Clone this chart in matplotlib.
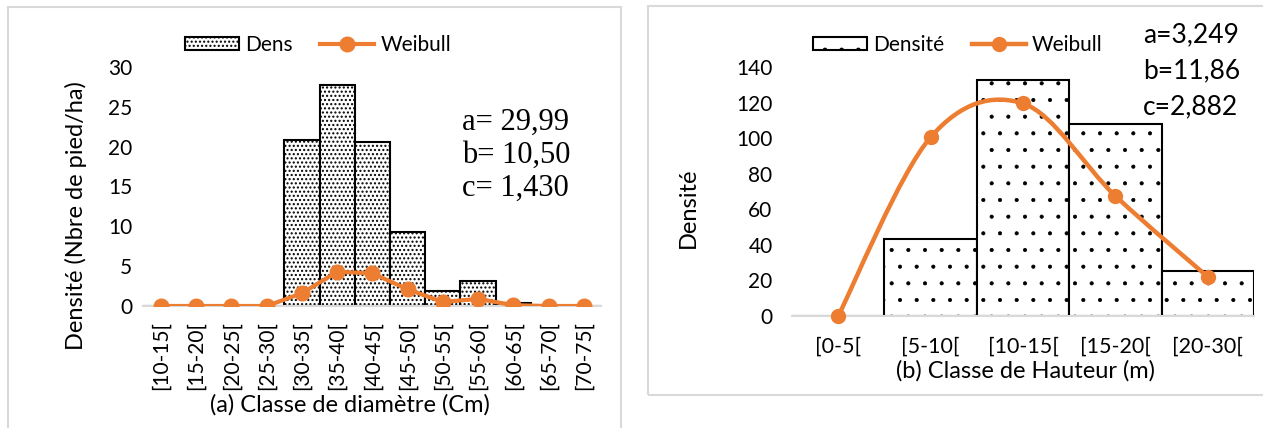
import numpy as np
import matplotlib.pyplot as plt
from matplotlib.patches import Rectangle, PathPatch
from matplotlib.path import Path
from matplotlib.lines import Line2D

# ---- données (a) : classes de diamètre ----
classes_d = ['[10-15[', '[15-20[', '[20-25[', '[25-30[', '[30-35[', '[35-40[', '[40-45[',
             '[45-50[', '[50-55[', '[55-60[', '[60-65[', '[65-70[', '[70-75[']
dens_d = [0, 0, 0, 0, 20.8, 27.7, 20.6, 9.3, 1.9, 3.2, 0.4, 0, 0]
weib_d = [0, 0, 0, 0, 1.6, 4.3, 4.1, 2.1, 0.5, 0.9, 0.1, 0, 0]
param_d = ['a= 29,99', 'b= 10,50', 'c= 1,430']

# ---- données (b) : classes de hauteur ----
classes_h = ['[0-5[', '[5-10[', '[10-15[', '[15-20[', '[20-30[']
dens_h = [0, 43.5, 132.5, 108, 25.5]
weib_h = [0, 100.5, 119.5, 67.5, 22]
param_h = ['a=3,249', 'b=11,86', 'c=2,882']

ORANGE = '#ED7D31'
W, H = 1263, 428
plt.rcParams['font.family'] = ['Lato', 'DejaVu Sans']
plt.rcParams['hatch.linewidth'] = 1.0

fig = plt.figure(figsize=(W / 100, H / 100), dpi=100)


def fx(px):
    return px / W


def fy(py):
    return 1 - py / H


def smooth_path(xs, ys):
    # courbe lissée façon Excel (Bézier de type Catmull-Rom)
    pts = np.column_stack([xs, ys]).astype(float)
    n = len(pts)
    verts = [pts[0]]
    codes = [Path.MOVETO]
    for i in range(n - 1):
        p0 = pts[i - 1] if i > 0 else pts[i]
        p1, p2 = pts[i], pts[i + 1]
        p3 = pts[i + 2] if i + 2 < n else pts[i + 1]
        verts += [p1 + (p2 - p0) / 6, p2 - (p3 - p1) / 6, p2]
        codes += [Path.CURVE4] * 3
    return Path(verts, codes)


def legende(handles, labels, cx, cy):
    fig.legend(handles, labels, loc='center', bbox_to_anchor=(fx(cx), fy(cy)),
               ncol=2, frameon=False, fontsize=15, handlelength=2.6, handleheight=0.6,
               handletextpad=0.3, columnspacing=1.3, numpoints=1)


def style_axe(ax, pad):
    ax.tick_params(length=0, labelsize=15, pad=pad)
    for s in ['top', 'right', 'left']:
        ax.spines[s].set_visible(False)
    ax.spines['bottom'].set_color('#d9d9d9')
    ax.spines['bottom'].set_linewidth(1.5)
    ax.patch.set_alpha(0)


# cadres des deux graphiques
fig.patches.append(Rectangle((fx(8), fy(440)), fx(613), fy(7) - fy(440), transform=fig.transFigure,
                             fill=False, edgecolor='#d9d9d9', lw=1.5))
fig.patches.append(Rectangle((fx(648), fy(395)), fx(630), fy(6) - fy(395), transform=fig.transFigure,
                             fill=False, edgecolor='#d9d9d9', lw=1.5))

# ================= (a) =================
ax1 = fig.add_axes([fx(143.4), fy(306), fx(458), fy(67) - fy(306)])
x1 = np.arange(len(classes_d))
ax1.bar(x1, dens_d, width=1.0, color='white', edgecolor='black', lw=1.5, hatch='....', zorder=2)
ax1.plot(x1, weib_d, color=ORANGE, lw=3, marker='o', ms=10.5, zorder=3)
ax1.set_xlim(-0.5, len(classes_d) - 0.5)
ax1.set_ylim(0, 30)
ax1.set_yticks(range(0, 31, 5))
ax1.set_xticks(x1)
ax1.set_xticklabels(classes_d, rotation=90)
style_axe(ax1, 11)
ax1.tick_params(axis='y', pad=8)

fig.text(fx(76), fy(216), 'Densité (Nbre de pied/ha)', rotation=90, ha='center', va='center', fontsize=17)
fig.text(fx(350), fy(405), '(a) Classe de diamètre (Cm)', ha='center', va='center', fontsize=17)
for i, t in enumerate(param_d):
    fig.text(fx(462), fy(122 + 33 * i), t, ha='left', va='center', fontsize=22,
             family='Liberation Serif')

legende([Rectangle((0, 0), 1, 1, facecolor='white', edgecolor='black', lw=1.5, hatch='....'),
         Line2D([], [], color=ORANGE, lw=3, marker='o', ms=10.5)],
        ['Dens', 'Weibull'], 318, 45)

# ================= (b) =================
ax2 = fig.add_axes([fx(792), fy(316), fx(462), fy(67) - fy(316)])
x2 = np.arange(len(classes_h))
with plt.rc_context({'hatch.linewidth': 0.5}):
    ax2.bar(x2, dens_h, width=1.0, color='white', edgecolor='black', lw=1.5, hatch='.', zorder=2)
    h_b = Rectangle((0, 0), 1, 1, facecolor='white', edgecolor='black', lw=1.5, hatch='.')
ax2.add_patch(PathPatch(smooth_path(x2, weib_h), facecolor='none', edgecolor=ORANGE, lw=3.2, zorder=3))
ax2.plot(x2, weib_h, ls='none', marker='o', color=ORANGE, ms=10, zorder=4, clip_on=False)
ax2.set_xlim(-0.5, len(classes_h) - 0.5)
ax2.set_ylim(0, 140)
ax2.set_yticks(range(0, 141, 20))
ax2.set_xticks(x2)
ax2.set_xticklabels(classes_h)
style_axe(ax2, 15)
ax2.tick_params(axis='y', pad=14)
ax2.tick_params(axis='x', labelsize=15.5)

fig.text(fx(688), fy(208), 'Densité', rotation=90, ha='center', va='center', fontsize=17)
fig.text(fx(1025), fy(371), '(b) Classe de Hauteur (m)', ha='center', va='center', fontsize=17)
for i, t in enumerate(param_h):
    fig.text(fx(1143), fy(35 + 36 * i), t, ha='left', va='center', fontsize=19)

legende([h_b, Line2D([], [], color=ORANGE, lw=3.2, marker='o', ms=10)],
        ['Densité', 'Weibull'], 958, 45)

fig.savefig('out.png', dpi=100)
